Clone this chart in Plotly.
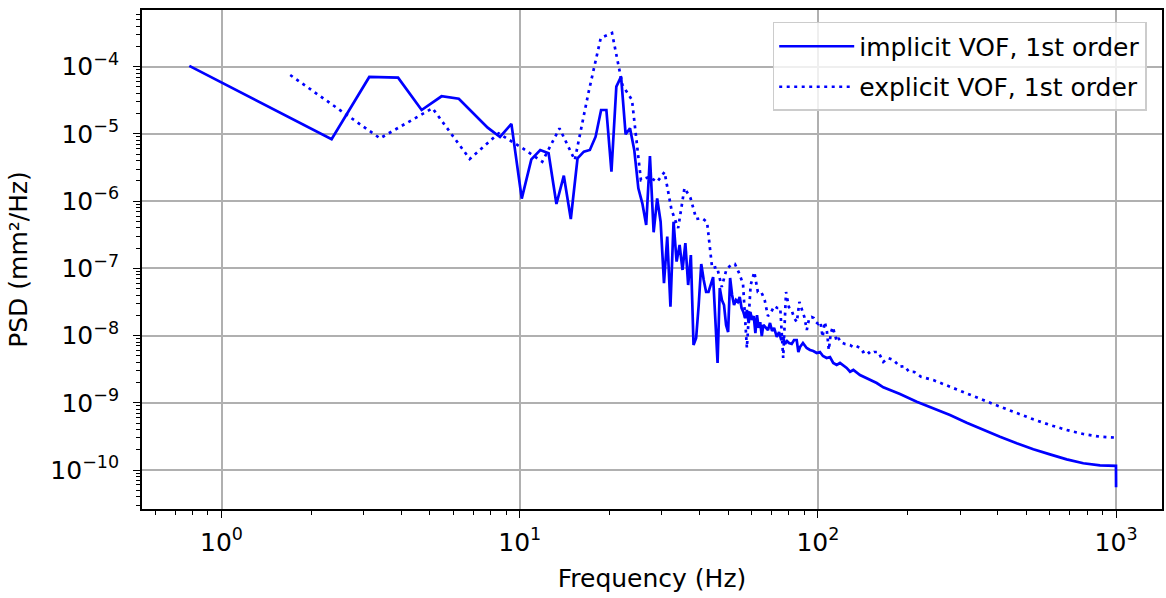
import plotly.graph_objects as go

# ---------------- data ----------------
implicit_freq = [
    0.78, 1.56, 2.34, 3.13, 3.91, 4.69, 5.47, 6.25, 7.03, 7.81,
    8.59, 9.38, 10.16, 10.94, 11.72, 12.50, 13.28, 14.06, 14.84, 15.63,
    16.41, 17.19, 17.97, 18.75, 19.53, 20.31, 21.09, 21.88, 22.66, 23.44,
    24.22, 25.00, 25.78, 26.56, 27.34, 28.13, 28.91, 29.69, 30.47, 31.25,
    32.03, 32.81, 33.59, 34.38, 35.16, 35.94, 36.72, 37.50, 38.28, 39.06,
    39.84, 40.63, 41.41, 42.19, 42.97, 43.75, 44.53, 45.31, 46.09, 46.88,
    47.66, 48.44, 49.22, 50.00, 50.78, 51.56, 52.34, 53.13, 53.91, 54.69,
    55.47, 56.25, 57.03, 57.81, 58.59, 59.38, 60.16, 60.94, 61.72, 62.50,
    63.28, 64.06, 64.84, 65.63, 66.41,
    68.0, 69.1, 70.2, 71.3, 72.8, 74.1, 75.2, 76.6, 77.6, 78.8,
    80.0, 81.7, 83.2, 84.9, 86.0, 87.1, 89.1, 91.7, 94.1, 96.5,
    99.1, 101.6, 104.0, 107.0, 109.8, 112.6, 115.6, 118.6, 124.9, 128.2,
    131.5, 138.4, 145.8, 149.6, 157.5, 165.7, 174.5, 188.5, 214.5, 243.8,
    277.3, 315.5, 358.5, 408.0, 464.3, 527.8, 600.2, 682.9, 776.3, 883.1,
    999.2, 1000.0,
]
implicit_psd = [
    1.03e-4, 2.12e-5, 8.32e-6, 7.03e-5, 6.86e-5, 2.27e-5, 3.63e-5, 3.34e-5, 1.98e-5, 1.24e-5,
    9.0e-6, 1.41e-5, 1.09e-6, 4.19e-6, 5.77e-6, 5.15e-6, 9.06e-7, 2.39e-6, 5.42e-7, 4.34e-6,
    5.44e-6, 5.77e-6, 9.1e-6, 2.27e-5, 2.27e-5, 2.74e-6, 5.04e-5, 7.10e-5, 9.87e-6, 1.21e-5,
    5.77e-6, 1.55e-6, 9.29e-7, 4.42e-7, 4.70e-6, 3.44e-7, 1.10e-6, 4.94e-7, 6.0e-8, 2.96e-7,
    2.69e-8, 4.94e-7, 1.26e-7, 2.23e-7, 9.46e-8, 2.38e-7, 5.65e-8, 1.58e-7, 7.24e-9, 9.2e-9,
    2.85e-8, 1.16e-7, 6.71e-8, 4.45e-8, 4.45e-8, 5.65e-8, 7.43e-8, 1.71e-8, 3.91e-9, 5.1e-8,
    3.38e-8, 2.85e-8, 1.44e-8, 1.13e-8, 7.18e-8, 4.02e-8, 2.85e-8, 3.38e-8, 3.16e-8, 3.75e-8,
    2.57e-8, 2.24e-8, 1.82e-8, 2.40e-8, 1.54e-8, 2.24e-8, 1.71e-8, 1.95e-8, 1.09e-8, 2.02e-8,
    1.30e-8, 1.59e-8, 9.86e-9, 1.44e-8, 1.34e-8,
    1.21e-8, 1.54e-8, 1.17e-8, 1.30e-8, 9.53e-9, 1.13e-8, 8.89e-9, 9.2e-9, 7.5e-9, 8.3e-9,
    7.75e-9, 7.5e-9, 8.6e-9, 8.6e-9, 5.70e-9, 6.76e-9, 7.75e-9, 6.53e-9, 6.10e-9, 5.90e-9,
    5.51e-9, 5.70e-9, 4.97e-9, 4.64e-9, 4.80e-9, 3.91e-9, 3.65e-9, 3.91e-9, 3.30e-9, 2.90e-9,
    3.08e-9, 2.59e-9, 2.34e-9, 2.18e-9, 1.97e-9, 1.70e-9, 1.55e-9, 1.35e-9, 1.04e-9, 8.28e-10,
    6.58e-10, 5.06e-10, 3.94e-10, 3.13e-10, 2.50e-10, 2.03e-10, 1.71e-10, 1.44e-10, 1.26e-10, 1.17e-10,
    1.15e-10, 5.53e-11,
]

explicit_freq = [
    1.70, 3.40, 5.10, 6.80, 8.50, 10.20, 11.90, 13.60, 15.30, 17.00,
    18.70, 20.40, 22.10, 23.80, 25.50, 27.20, 28.90, 30.60, 32.30, 34.00,
    35.70, 37.40, 39.10, 40.80, 42.50, 44.20, 45.90, 47.60, 49.30, 51.00,
    52.70, 54.40, 56.10, 57.80, 59.50, 61.20, 62.90, 64.60, 66.30, 68.00,
    69.70, 71.40, 73.10, 74.80, 76.50, 78.20, 79.90, 81.60, 83.30, 85.00,
    86.70, 88.40, 90.10, 91.80, 93.50, 95.20, 96.90, 98.60, 100.3, 102.0,
    103.7, 105.4, 107.1, 108.8, 110.5, 112.2, 113.9, 115.6, 117.3, 119.0,
    123.3, 128.2, 131.4, 134.6, 138.4, 141.7, 145.8, 149.6, 154.3, 159.5,
    165.7, 171.9, 179.3, 188.5, 195.3, 202.1, 210.7, 221.7, 243.8, 277.3,
    315.5, 358.5, 408.0, 464.3, 527.8, 600.2, 682.9, 776.3, 883.1, 1000.0,
]
explicit_psd = [
    7.52e-5, 8.61e-6, 2.41e-5, 4.24e-6, 1.02e-5, 6.17e-6, 3.86e-6, 1.21e-5, 4.09e-6, 4.06e-5,
    2.67e-4, 3.17e-4, 5.35e-5, 3.2e-5, 2.06e-6, 2.29e-6, 1.93e-6, 2.71e-6, 7.38e-7, 3.98e-7,
    1.57e-6, 1.11e-6, 5.42e-7, 5.61e-7, 4.89e-7, 1.01e-7, 1.05e-7, 5.28e-8, 9.46e-8, 1.12e-7,
    1.16e-7, 8.53e-8, 5.85e-8, 6.53e-9, 5.65e-8, 8.83e-8, 4.45e-8, 4.45e-8, 3.38e-8, 1.95e-8,
    2.24e-8, 2.75e-8, 2.57e-8, 2.57e-8, 4.64e-9, 4.45e-8, 2.66e-8, 2.40e-8, 1.82e-8, 1.59e-8,
    3.16e-8, 2.40e-8, 1.89e-8, 1.21e-8, 1.82e-8, 1.89e-8, 1.82e-8, 1.59e-8, 1.49e-8, 1.59e-8,
    9.53e-9, 1.59e-8, 1.21e-8, 6.10e-9, 1.09e-8, 1.34e-8, 1.00e-8, 8.30e-9, 9.2e-9, 8.02e-9,
    7.5e-9, 7.24e-9, 6.76e-9, 7.0e-9, 6.53e-9, 5.70e-9, 6.10e-9, 5.32e-9, 5.70e-9, 5.70e-9,
    4.05e-9, 4.64e-9, 4.33e-9, 3.44e-9, 3.52e-9, 2.90e-9, 2.87e-9, 2.44e-9, 2.18e-9, 1.73e-9,
    1.35e-9, 1.10e-9, 8.75e-10, 6.98e-10, 5.68e-10, 4.67e-10, 3.94e-10, 3.43e-10, 3.13e-10, 3.03e-10,
]

series_names = ["implicit VOF, 1st order", "explicit VOF, 1st order"]

x_major = [1, 10, 100, 1000]
x_major_text = ["10<sup>0</sup>", "10<sup>1</sup>", "10<sup>2</sup>", "10<sup>3</sup>"]
y_major = [1e-10, 1e-9, 1e-8, 1e-7, 1e-6, 1e-5, 1e-4]
y_major_text = ["10<sup>−10</sup>", "10<sup>−9</sup>", "10<sup>−8</sup>", "10<sup>−7</sup>",
                "10<sup>−6</sup>", "10<sup>−5</sup>", "10<sup>−4</sup>"]

x_minor = [m * 10 ** e for e in range(-1, 4) for m in range(2, 10)]
y_minor = [m * 10.0 ** e for e in range(-11, -3) for m in range(2, 10)]

# ---------------- figure ----------------
FONT = "DejaVu Sans, Arial, sans-serif"
FS = 25
fig = go.Figure()
fig.add_trace(go.Scatter(x=implicit_freq, y=implicit_psd, mode="lines",
                         name=series_names[0], legendgroup="g1",
                         line=dict(color="#0000ff", width=2.7)))
fig.add_trace(go.Scatter(x=explicit_freq, y=explicit_psd, mode="lines",
                         name=series_names[1], legendgroup="g2",
                         line=dict(color="#0000ff", width=2.7, dash="3px,4.5px")))

axis_common = dict(
    showline=True, linecolor="black", linewidth=1.8, mirror=True,
    ticks="outside", ticklen=7, tickwidth=1.4, tickcolor="black",
    showgrid=True, gridcolor="#b0b0b0", gridwidth=1.6,
    zeroline=False, automargin=False,
    tickfont=dict(family=FONT, size=FS, color="black"),
)

fig.update_xaxes(type="log", range=[-0.2666, 3.154],
                 tickvals=x_major, ticktext=x_major_text, ticklabelstandoff=3,
                 minor=dict(tickvals=x_minor, ticks="outside", ticklen=4,
                            tickwidth=1.1, tickcolor="black", showgrid=False),
                 title=dict(text="Frequency (Hz)", font=dict(family=FONT, size=FS, color="black"),
                            standoff=14),
                 **axis_common)
fig.update_yaxes(type="log", range=[-10.580, -3.1565],
                 tickvals=y_major, ticktext=y_major_text, ticklabelstandoff=9,
                 minor=dict(tickvals=y_minor, ticks="outside", ticklen=4,
                            tickwidth=1.1, tickcolor="black", showgrid=False),
                 title=dict(text="PSD (mm²/Hz)", font=dict(family=FONT, size=FS, color="black"),
                            standoff=16),
                 **axis_common)

fig.update_layout(
    width=1166, height=598,
    margin=dict(l=142, r=4, t=10, b=89),
    plot_bgcolor="white", paper_bgcolor="white",
    font=dict(family=FONT, size=FS, color="black"),
    showlegend=True,
    legend=dict(x=0.985, y=0.976, xanchor="right", yanchor="top",
                bgcolor="rgba(255,255,255,0.8)", bordercolor="#cccccc", borderwidth=1.5,
                font=dict(family=FONT, size=FS, color="black"),
                itemwidth=75, tracegroupgap=5),
)

fig.write_html("out.html", config={"displayModeBar": False},
               post_script="document.body.style.margin='0px';")
